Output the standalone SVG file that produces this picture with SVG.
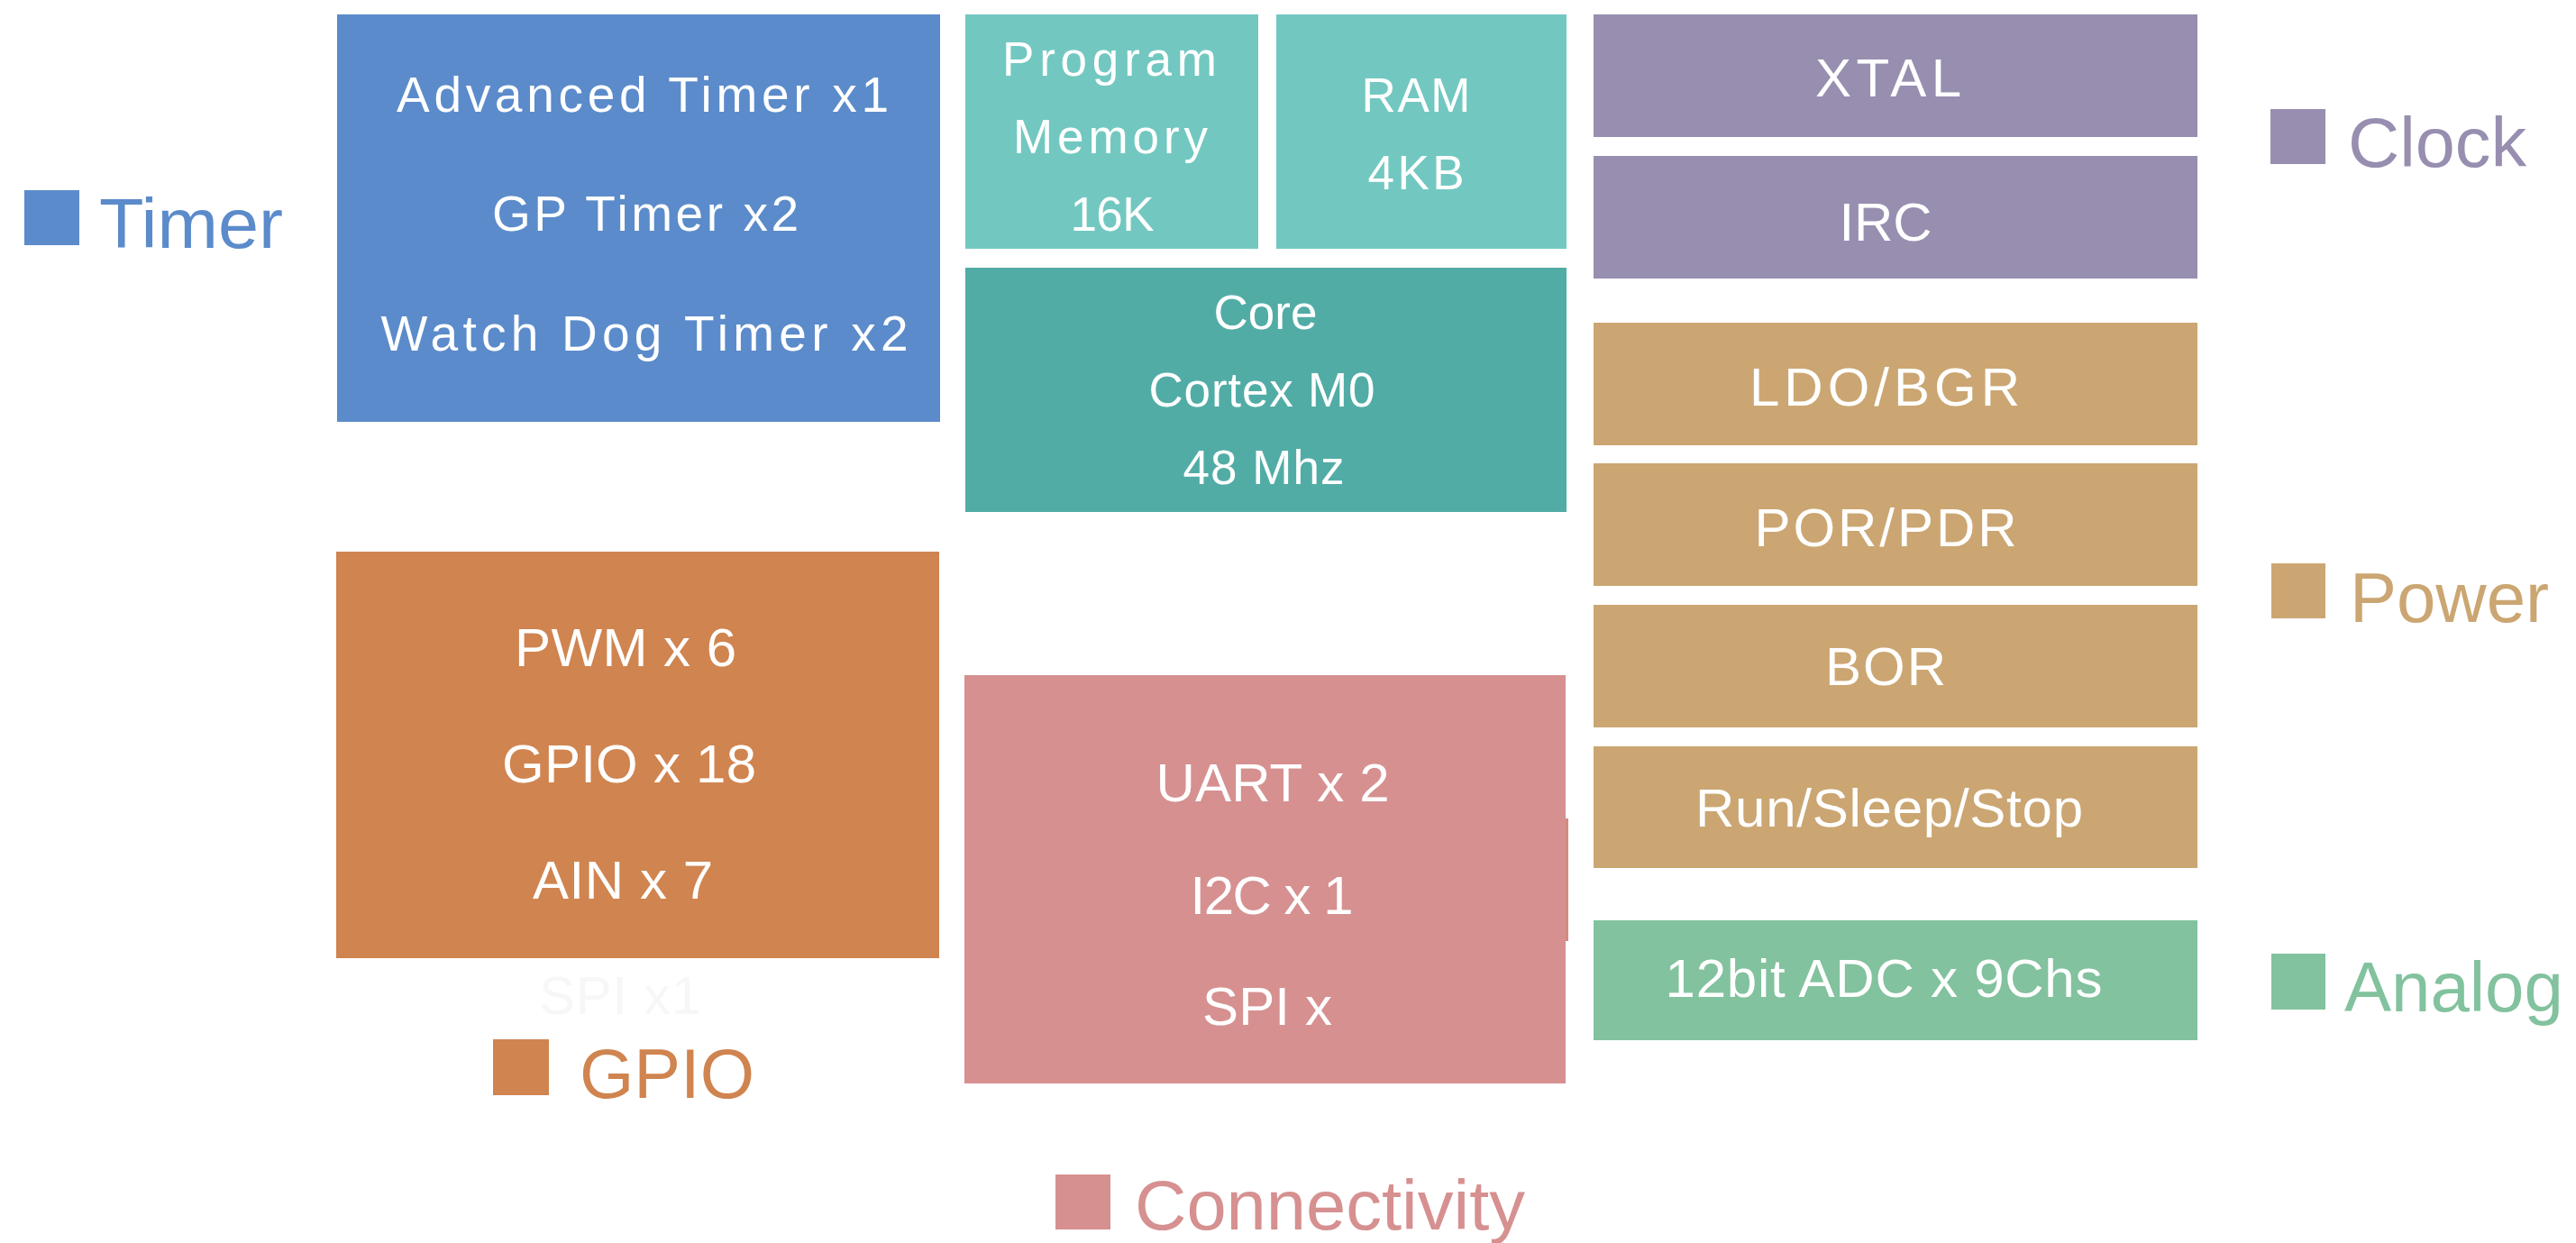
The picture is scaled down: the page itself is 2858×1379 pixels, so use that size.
<svg xmlns="http://www.w3.org/2000/svg" width="2858" height="1379" viewBox="0 0 2858 1379">
<style>
text{font-family:"Liberation Sans",Arial,sans-serif}
.bt{fill:#ffffff;font-size:60px;text-anchor:middle}
.s55{font-size:55px}
.s53{font-size:53px}
.lg{font-size:78px}
.timer{fill:#5b8bca}
.mem{fill:#72c8c1}
.core{fill:#52aca6}
.clock{fill:#978eb0}
.power{fill:#cba672}
.analog{fill:#82c29e}
.gpio{fill:#d0844f}
.conn{fill:#d69090}
</style>
<rect width="2858" height="1379" fill="#ffffff"/>

<g id="timer-block">
<rect class="timer" x="374" y="16" width="669" height="452"/>
<text class="bt s55" x="713" y="124" textLength="546" lengthAdjust="spacing">Advanced Timer x1</text>
<text class="bt s55" x="716" y="256" textLength="340" lengthAdjust="spacing">GP Timer x2</text>
<text class="bt s55" x="715" y="389" textLength="585" lengthAdjust="spacing">Watch Dog Timer x2</text>
</g>

<g id="program-memory">
<rect class="mem" x="1071" y="16" width="325" height="260"/>
<text class="bt s53" x="1231" y="84" textLength="238" lengthAdjust="spacing">Program</text>
<text class="bt s53" x="1232" y="170" textLength="216" lengthAdjust="spacing">Memory</text>
<text class="bt s53" x="1234" y="256" textLength="93" lengthAdjust="spacing">16K</text>
</g>

<g id="ram">
<rect class="mem" x="1416" y="16" width="322" height="260"/>
<text class="bt s53" x="1571" y="124" textLength="121" lengthAdjust="spacing">RAM</text>
<text class="bt s53" x="1571" y="210" textLength="107" lengthAdjust="spacing">4KB</text>
</g>

<g id="core">
<rect class="core" x="1071" y="297" width="667" height="271"/>
<text class="bt s53" x="1404" y="365" textLength="115" lengthAdjust="spacing">Core</text>
<text class="bt s53" x="1400" y="451" textLength="251" lengthAdjust="spacing">Cortex M0</text>
<text class="bt s53" x="1402" y="537" textLength="179" lengthAdjust="spacing">48 Mhz</text>
</g>

<g id="xtal">
<rect class="clock" x="1768" y="16" width="670" height="136"/>
<text class="bt" x="2095" y="107" textLength="162" lengthAdjust="spacing">XTAL</text>
</g>
<g id="irc">
<rect class="clock" x="1768" y="173" width="670" height="136"/>
<text class="bt" x="2092" y="267" textLength="103" lengthAdjust="spacing">IRC</text>
</g>

<g id="ldo-bgr">
<rect class="power" x="1768" y="358" width="670" height="136"/>
<text class="bt" x="2091" y="450" textLength="300" lengthAdjust="spacing">LDO/BGR</text>
</g>
<g id="por-pdr">
<rect class="power" x="1768" y="514" width="670" height="136"/>
<text class="bt" x="2092" y="606" textLength="291" lengthAdjust="spacing">POR/PDR</text>
</g>
<g id="bor">
<rect class="power" x="1768" y="671" width="670" height="136"/>
<text class="bt" x="2092" y="760" textLength="134" lengthAdjust="spacing">BOR</text>
</g>
<g id="run-sleep-stop">
<rect class="power" x="1768" y="828" width="670" height="135"/>
<text class="bt" x="2096" y="917" textLength="430" lengthAdjust="spacing">Run/Sleep/Stop</text>
</g>

<g id="adc">
<rect class="analog" x="1768" y="1021" width="670" height="133"/>
<text class="bt" x="2090" y="1106" textLength="485" lengthAdjust="spacing">12bit ADC x 9Chs</text>
</g>

<g id="gpio-block">
<rect class="gpio" x="373" y="612" width="669" height="451"/>
<text class="bt" x="694" y="739" textLength="246" lengthAdjust="spacing">PWM x 6</text>
<text class="bt" x="698" y="868" textLength="282" lengthAdjust="spacing">GPIO x 18</text>
<text class="bt" x="691" y="997" textLength="200" lengthAdjust="spacing">AIN x 7</text>
<text class="bt" x="688" y="1125" textLength="180" lengthAdjust="spacing" style="fill:#f7f7f7">SPI x1</text>
</g>

<g id="connectivity-block">
<rect class="conn" x="1070" y="749" width="667" height="453"/>
<rect x="1737" y="908" width="3" height="136" fill="#d58a80"/>
<text class="bt" x="1412" y="889" textLength="259" lengthAdjust="spacing">UART x 2</text>
<text class="bt" x="1411" y="1014" textLength="181" lengthAdjust="spacing">I2C x 1</text>
<text class="bt" x="1406" y="1137" textLength="144" lengthAdjust="spacing">SPI x</text>
</g>

<g id="legend-timer">
<rect class="timer" x="27" y="211" width="61" height="61"/>
<text class="lg timer" x="110" y="275" textLength="204" lengthAdjust="spacingAndGlyphs">Timer</text>
</g>
<g id="legend-clock">
<rect class="clock" x="2519" y="121" width="61" height="61"/>
<text class="lg clock" x="2605" y="185" textLength="198" lengthAdjust="spacingAndGlyphs">Clock</text>
</g>
<g id="legend-power">
<rect class="power" x="2520" y="625" width="60" height="61"/>
<text class="lg power" x="2607" y="690" textLength="221" lengthAdjust="spacingAndGlyphs">Power</text>
</g>
<g id="legend-analog">
<rect class="analog" x="2520" y="1058" width="60" height="62"/>
<text class="lg analog" x="2601" y="1122">Analog</text>
</g>
<g id="legend-gpio">
<rect class="gpio" x="547" y="1153" width="62" height="62"/>
<text class="lg gpio" x="643" y="1218" textLength="194" lengthAdjust="spacingAndGlyphs">GPIO</text>
</g>
<g id="legend-connectivity">
<rect class="conn" x="1171" y="1303" width="61" height="61"/>
<text class="lg conn" x="1259" y="1364" textLength="433" lengthAdjust="spacingAndGlyphs">Connectivity</text>
</g>
</svg>
